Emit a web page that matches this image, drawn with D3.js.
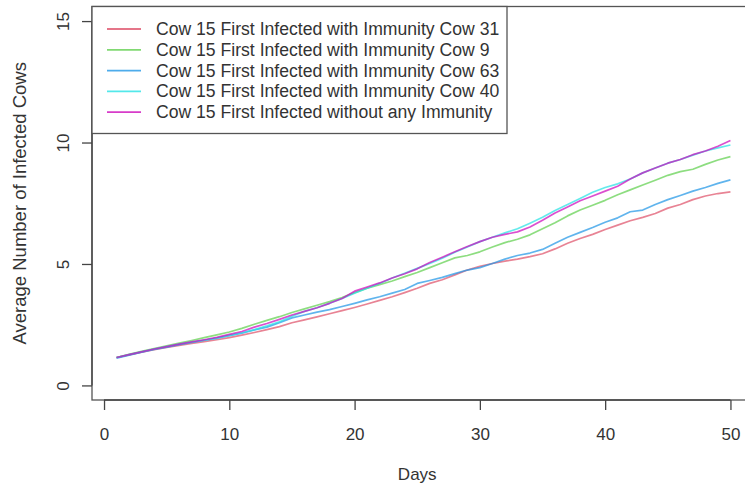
<!DOCTYPE html>
<html><head><meta charset="utf-8">
<script src="https://cdn.jsdelivr.net/npm/d3@7"></script>
<style>
html,body{margin:0;padding:0;background:#fff;}
svg{display:block;font-family:"Liberation Sans",Arial,sans-serif;}
</style></head>
<body>
<svg id="chart" width="745" height="491"></svg>
<script>
const days = d3.range(1, 51);
const seriesNames = [
  "Cow 15 First Infected with Immunity Cow 31",
  "Cow 15 First Infected with Immunity Cow 9",
  "Cow 15 First Infected with Immunity Cow 63",
  "Cow 15 First Infected with Immunity Cow 40",
  "Cow 15 First Infected without any Immunity"
];
const colors = ["#DF536B", "#61D04F", "#2297E6", "#28E2E5", "#CD0BBC"];
const xTicks = [0, 10, 20, 30, 40, 50];
const yTicks = [0, 5, 10, 15];

const immunity31 = [1.15,1.26,1.37,1.47,1.56,1.65,1.73,1.80,1.88,1.97,
  2.07,2.18,2.30,2.42,2.58,2.70,2.82,2.95,3.08,3.21,
  3.35,3.50,3.65,3.82,4.00,4.20,4.35,4.55,4.75,4.90,
  5.02,5.12,5.20,5.30,5.42,5.62,5.85,6.05,6.22,6.42,
  6.60,6.78,6.92,7.08,7.30,7.45,7.65,7.80,7.90,7.97];
const immunity9 = [1.15,1.28,1.40,1.52,1.63,1.74,1.85,1.97,2.08,2.20,
  2.35,2.52,2.68,2.83,3.00,3.15,3.30,3.45,3.62,3.82,
  4.00,4.15,4.30,4.48,4.65,4.85,5.05,5.25,5.35,5.50,
  5.70,5.88,6.02,6.20,6.45,6.70,6.98,7.22,7.42,7.62,
  7.85,8.05,8.25,8.45,8.65,8.80,8.90,9.10,9.28,9.42];
const immunity63 = [1.12,1.25,1.37,1.48,1.58,1.68,1.77,1.86,1.95,2.05,
  2.15,2.28,2.40,2.58,2.78,2.90,3.02,3.12,3.25,3.38,
  3.52,3.65,3.80,3.95,4.20,4.32,4.45,4.60,4.75,4.85,
  5.02,5.20,5.35,5.45,5.60,5.85,6.10,6.30,6.50,6.72,
  6.90,7.15,7.22,7.45,7.65,7.82,8.00,8.15,8.32,8.46];
const immunity40 = [1.15,1.27,1.38,1.50,1.60,1.70,1.78,1.86,1.95,2.06,
  2.17,2.30,2.45,2.62,2.85,3.05,3.20,3.38,3.58,3.80,
  4.00,4.20,4.42,4.62,4.82,5.02,5.24,5.48,5.70,5.92,
  6.10,6.28,6.45,6.68,6.92,7.20,7.45,7.70,7.95,8.15,
  8.30,8.50,8.75,8.95,9.15,9.30,9.48,9.65,9.78,9.90];
const noImmunity = [1.15,1.27,1.38,1.50,1.60,1.70,1.79,1.88,1.98,2.10,
  2.22,2.40,2.55,2.72,2.90,3.05,3.20,3.38,3.58,3.88,
  4.05,4.22,4.42,4.60,4.80,5.06,5.28,5.50,5.72,5.92,
  6.10,6.22,6.32,6.52,6.80,7.10,7.35,7.60,7.80,8.00,
  8.20,8.50,8.75,8.95,9.15,9.30,9.50,9.65,9.85,10.08];
const seriesValues = [immunity31, immunity9, immunity63, immunity40, noImmunity];

const svg = d3.select("#chart");
const x = d3.scaleLinear().domain([-0.96, 51.96]).range([92, 755]);
const y = d3.scaleLinear().domain([-0.6, 15.6]).range([400, 6.5]);
const axisColor = "#444";
const textColor = "#333";

// plot box
svg.append("rect").attr("x", 92).attr("y", 6.5).attr("width", 663).attr("height", 393.5)
  .attr("fill", "none").attr("stroke", "#555").attr("stroke-width", 1.3);

// x axis
const gx = svg.append("g").attr("transform", "translate(0,400)")
  .call(d3.axisBottom(x).tickValues(xTicks).tickSize(10).tickPadding(18).tickSizeOuter(0));
gx.select(".domain").attr("d", `M${x(0)},0H${x(50)}`).attr("stroke", axisColor).attr("stroke-width", 1.3);
gx.selectAll(".tick line").attr("stroke", axisColor).attr("stroke-width", 1.3);
gx.selectAll(".tick text").attr("fill", textColor).attr("font-size", 17).attr("font-family", null);

// y axis
const gy = svg.append("g").attr("transform", "translate(92,0)")
  .call(d3.axisLeft(y).tickValues(yTicks).tickSize(10).tickSizeOuter(0));
gy.select(".domain").attr("d", `M0,${y(0)}V${y(15)}`).attr("stroke", axisColor).attr("stroke-width", 1.3);
gy.selectAll(".tick line").attr("stroke", axisColor).attr("stroke-width", 1.3);
gy.selectAll(".tick text").attr("fill", textColor).attr("font-size", 17).attr("font-family", null)
  .attr("x", null).attr("dy", null)
  .attr("transform", "translate(-29,0) rotate(-90)")
  .attr("text-anchor", "middle").attr("dominant-baseline", "central");

// axis titles
svg.append("text").attr("x", x(25)).attr("y", 480).attr("text-anchor", "middle")
  .attr("font-size", 17).attr("fill", textColor).text("Days");
svg.append("text").attr("transform", `translate(19,${(y(-0.6)+y(15.6))/2}) rotate(-90)`)
  .attr("text-anchor", "middle").attr("dominant-baseline", "central")
  .attr("font-size", 18.5).attr("fill", textColor).text("Average Number of Infected Cows");

// lines
const line = d3.line().x((d, i) => x(days[i])).y(d => y(d));
seriesValues.forEach((vals, k) => {
  svg.append("path").datum(vals).attr("d", line)
    .attr("fill", "none").attr("stroke", colors[k]).attr("stroke-width", 1.7)
    .attr("stroke-opacity", 0.72).attr("stroke-linejoin", "round");
});

// legend
const lg = svg.append("g");
lg.append("rect").attr("x", 92).attr("y", 6.5).attr("width", 415).attr("height", 127)
  .attr("fill", "#fff").attr("stroke", "#555").attr("stroke-width", 1.3);
seriesNames.forEach((name, k) => {
  const cy = 29 + k * 20.8;
  lg.append("line").attr("x1", 107).attr("x2", 141).attr("y1", cy).attr("y2", cy)
    .attr("stroke", colors[k]).attr("stroke-width", 1.8).attr("stroke-opacity", 0.8);
  lg.append("text").attr("x", 156).attr("y", cy).attr("dominant-baseline", "central")
    .attr("font-size", 17.6).attr("fill", textColor).text(name);
});
</script>
</body></html>
